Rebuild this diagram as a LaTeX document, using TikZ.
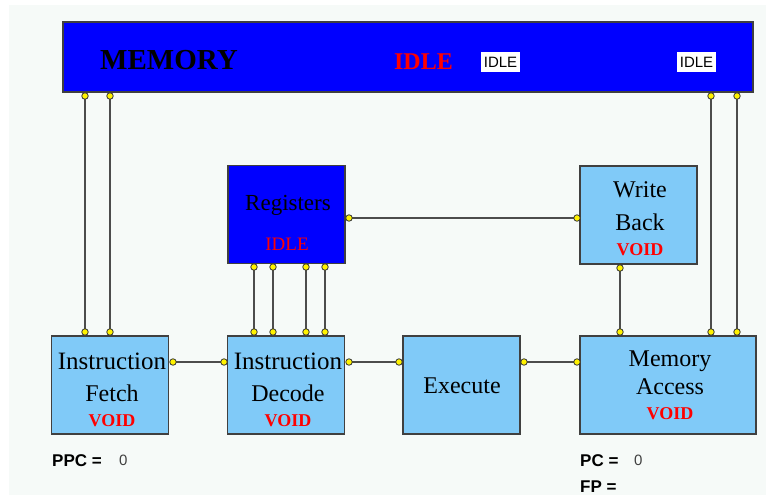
\documentclass[tikz,border=0pt]{standalone}
\usepackage{fontspec}
\setmainfont{Liberation Serif}
\setsansfont{Liberation Sans}
\begin{document}
\begin{tikzpicture}[x=1pt,y=-1pt,
  lightbox/.style={draw=black!75,line width=1.3pt,fill=boxblue,minimum width=117pt,minimum height=98pt,inner sep=0pt},
  darkbox/.style={draw=black!75,line width=1.3pt,fill=blue,minimum width=117pt,minimum height=98pt,inner sep=0pt},
  boxtext/.style={font=\fontsize{24}{24}\selectfont,text=black,inner sep=0pt},
  instrtext/.style={font=\fontsize{25}{25}\selectfont,text=black,inner sep=0pt},
  voidtext/.style={font=\fontsize{18}{18}\selectfont\bfseries,text=red,inner sep=0pt},
  whitetag/.style={fill=white,font=\sffamily\fontsize{15}{15}\selectfont,minimum width=39pt,minimum height=20pt,inner sep=0pt},
  regtext/.style={font=\sffamily\bfseries\fontsize{17}{17}\selectfont,inner sep=0pt,anchor=west},
  valtext/.style={font=\sffamily\fontsize{15}{15}\selectfont,text=black!75,inner sep=0pt,anchor=west},
  wire/.style={draw=black!70,line width=1.4pt},
  pin/.style={circle,draw=black!80,fill=yellow,line width=0.8pt,minimum size=6.5pt,inner sep=0pt}
]
\definecolor{boxblue}{RGB}{128,202,248}
\definecolor{bg}{RGB}{246,250,248}
\useasboundingbox (0,0) rectangle (766,495);
\fill[white] (0,0) rectangle (766,495);
\fill[bg] (9,5) rectangle (766,495);

% boxes
\node[darkbox,minimum width=690pt,minimum height=70pt] (MEM) at (408,57) {};
\node[darkbox] (REG) at (286.5,214.5) {};
\node[lightbox] (WB) at (638.5,215) {};
\node[lightbox] (IF) at (110,385) {};
\node[lightbox] (ID) at (286,385) {};
\node[lightbox] (EX) at (461.5,385) {};
\node[lightbox,minimum width=176pt] (MA) at (668,385) {};

% texts
\node[font=\fontsize{29}{29}\selectfont\bfseries,inner sep=0pt,anchor=west] (memt) at (100,60) {MEMORY};
\node[font=\fontsize{24}{24}\selectfont\bfseries,text=red,inner sep=0pt] (memidle) at (423.5,62) {IDLE};
\node[whitetag] (tag1) at (500.5,62) {IDLE};
\node[whitetag] (tag2) at (696.5,62) {IDLE};

\node[boxtext,font=\fontsize{23}{23}\selectfont] (regt) at (288,205) {Registers};
\node[voidtext,font=\fontsize{19}{19}\selectfont] (regidle) at (287,244) {IDLE};

\node[boxtext] (wbt1) at (640,190) {Write};
\node[boxtext] (wbt2) at (640,222) {Back};
\node[voidtext] (wbv) at (640,250) {VOID};

\node[instrtext] (ift1) at (112,361) {Instruction};
\node[boxtext] (ift2) at (112,393) {Fetch};
\node[voidtext] (ifv) at (112,421) {VOID};

\node[instrtext] (idt1) at (288,361) {Instruction};
\node[boxtext] (idt2) at (288,393) {Decode};
\node[voidtext] (idv) at (288,421) {VOID};

\node[boxtext] (ext) at (462,386) {Execute};

\node[boxtext] (mat1) at (670,361) {Memory};
\node[boxtext] (mat2) at (670,387) {Access};
\node[voidtext] (mav) at (670,414) {VOID};

\node[regtext] (ppc) at (52,461) {PPC =};
\node[valtext] (ppcv) at (119,460) {0};
\node[regtext] (pc) at (580,461) {PC =};
\node[valtext] (pcv) at (634,460) {0};
\node[regtext] (fp) at (580,487) {FP =};

% pins
\coordinate (m1) at (85,96);
\coordinate (m2) at (110,96);
\coordinate (m3) at (711,96);
\coordinate (m4) at (737,96);
\coordinate (f1) at (85,332);
\coordinate (f2) at (110,332);
\coordinate (fr) at (173,362);
\coordinate (dl) at (224,362);
\coordinate (dr) at (349,362);
\coordinate (d1) at (254,332);
\coordinate (d2) at (273,332);
\coordinate (d3) at (306,332);
\coordinate (d4) at (325,332);
\coordinate (r1) at (254,267);
\coordinate (r2) at (273,267);
\coordinate (r3) at (306,267);
\coordinate (r4) at (325,267);
\coordinate (rr) at (349,218);
\coordinate (wl) at (577,218);
\coordinate (wbb) at (620,268);
\coordinate (el) at (399,362);
\coordinate (er) at (524,362);
\coordinate (al) at (577,362);
\coordinate (a1) at (620,332);
\coordinate (a2) at (711,332);
\coordinate (a3) at (737,332);

% wires
\draw[wire] (m1) -- (f1);
\draw[wire] (m2) -- (f2);
\draw[wire] (m3) -- (a2);
\draw[wire] (m4) -- (a3);
\draw[wire] (fr) -- (dl);
\draw[wire] (dr) -- (el);
\draw[wire] (er) -- (al);
\draw[wire] (r1) -- (d1);
\draw[wire] (r2) -- (d2);
\draw[wire] (r3) -- (d3);
\draw[wire] (r4) -- (d4);
\draw[wire] (rr) -- (wl);
\draw[wire] (wbb) -- (a1);

\foreach \p in {m1,m2,m3,m4,f1,f2,fr,dl,dr,d1,d2,d3,d4,r1,r2,r3,r4,rr,wl,wbb,el,er,al,a1,a2,a3}
  \node[pin] (pin-\p) at (\p) {};
\end{tikzpicture}
\end{document}
